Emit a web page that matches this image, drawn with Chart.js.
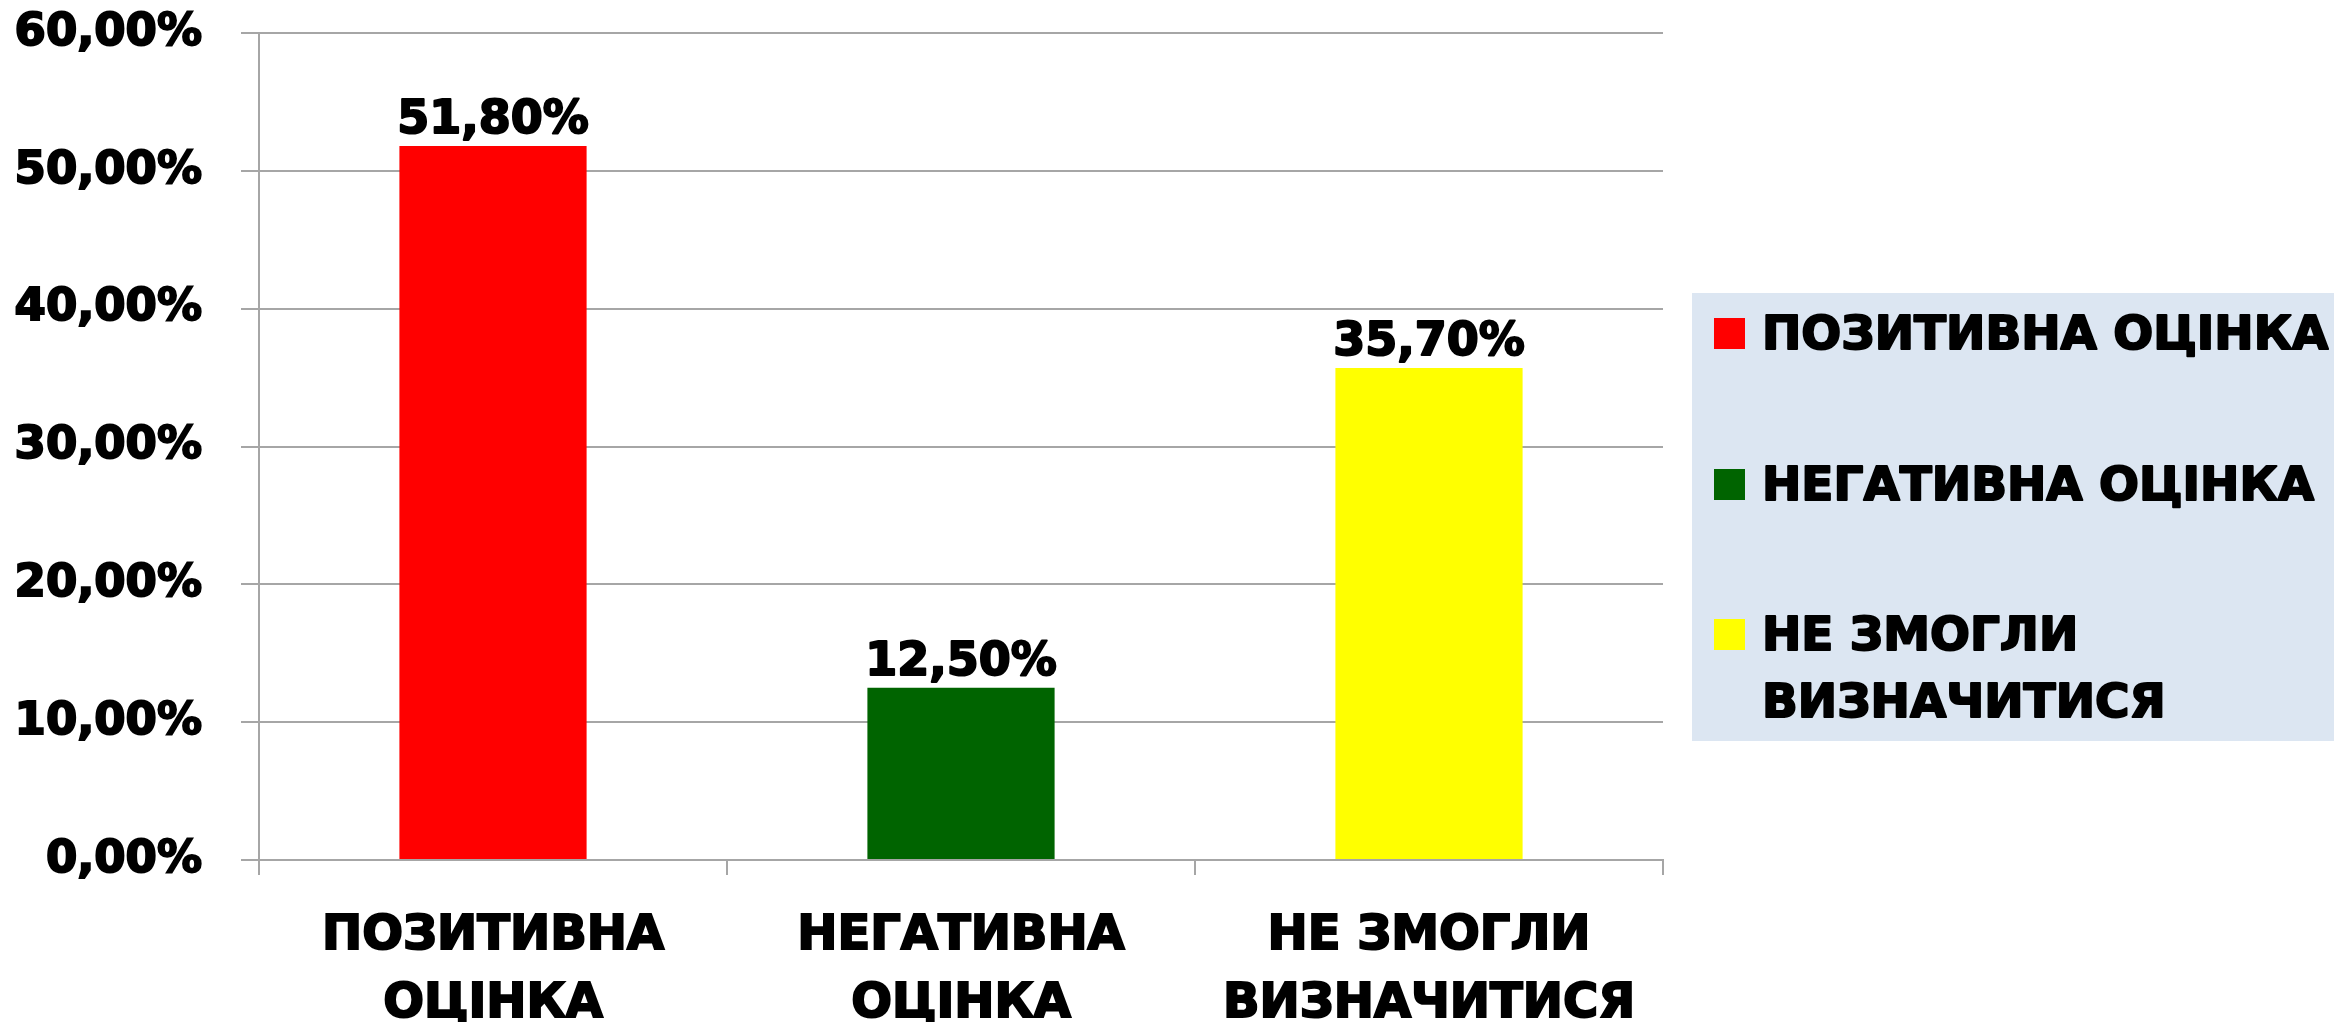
<!DOCTYPE html>
<html>
<head>
<meta charset="utf-8">
<script src="https://cdn.jsdelivr.net/npm/chart.js@4.4.0/dist/chart.umd.min.js"></script>
<style>
  body { margin: 0; background: #ffffff; }
  #wrap { width: 2334px; height: 1022px; }
</style>
</head>
<body>
<div id="wrap"><canvas id="chart" width="2334" height="1022"></canvas></div>
<script>
// chart data
const categories = [['ПОЗИТИВНА', 'ОЦІНКА'], ['НЕГАТИВНА', 'ОЦІНКА'], ['НЕ ЗМОГЛИ', 'ВИЗНАЧИТИСЯ']];
const legendLabels = [['ПОЗИТИВНА ОЦІНКА'], ['НЕГАТИВНА ОЦІНКА'], ['НЕ ЗМОГЛИ', 'ВИЗНАЧИТИСЯ']];
const values = [51.8, 12.5, 35.7];
const barColors = ['#FF0000', '#006400', '#FFFF00'];
const yTicks = [0, 10, 20, 30, 40, 50, 60];

const gridColor = '#A6A6A6';
const fontFamily = '"DejaVu Sans", "Liberation Sans", sans-serif';

function fmtPct(v) {
  return v.toFixed(2).replace('.', ',') + '%';
}

// value labels over each bar
const barLabels = {
  id: 'barLabels',
  afterDatasetsDraw(chart) {
    const ctx = chart.ctx;
    const meta = chart.getDatasetMeta(0);
    ctx.save();
    ctx.fillStyle = '#000000';
    ctx.strokeStyle = '#000000';
    ctx.lineWidth = 2;
    ctx.lineJoin = 'round';
    ctx.font = 'bold 46px ' + fontFamily;
    ctx.textAlign = 'center';
    ctx.textBaseline = 'alphabetic';
    meta.data.forEach((bar, i) => {
      ctx.strokeText(fmtPct(values[i]), bar.x, bar.y - 13);
      ctx.fillText(fmtPct(values[i]), bar.x, bar.y - 13);
    });
    ctx.restore();
  }
};

// legend box on the right
const sideLegend = {
  id: 'sideLegend',
  afterDraw(chart) {
    const ctx = chart.ctx;
    const area = chart.chartArea;
    const boxX = area.right + 29;
    const boxY = 293;
    ctx.save();
    ctx.fillStyle = '#DCE6F2';
    ctx.fillRect(boxX, boxY, chart.width - boxX, 448);
    ctx.font = 'bold 47px ' + fontFamily;
    ctx.textBaseline = 'alphabetic';
    ctx.textAlign = 'left';
    ctx.strokeStyle = '#000000';
    ctx.lineWidth = 2;
    ctx.lineJoin = 'round';
    const baselines = [349, 500, 650];
    legendLabels.forEach((lines, i) => {
      ctx.fillStyle = barColors[i];
      ctx.fillRect(boxX + 22, baselines[i] - 31, 31, 31);
      ctx.fillStyle = '#000000';
      lines.forEach((t, j) => {
        ctx.strokeText(t, boxX + 70, baselines[i] + j * 67);
        ctx.fillText(t, boxX + 70, baselines[i] + j * 67);
      });
    });
    ctx.restore();
  }
};

const ctx = document.getElementById('chart').getContext('2d');
const chartInstance = new Chart(ctx, {
  type: 'bar',
  data: {
    labels: categories,
    datasets: [{
      data: values,
      backgroundColor: barColors,
      borderWidth: 0,
      barPercentage: 0.4,
      categoryPercentage: 1.0
    }]
  },
  options: {
    responsive: false,
    animation: false,
    layout: { padding: { top: 0, right: 671, left: 0, bottom: 0 } },
    plugins: {
      legend: { display: false },
      tooltip: { enabled: false }
    },
    scales: {
      y: {
        min: 0,
        max: 60,
        afterBuildTicks: s => { s.ticks = yTicks.map(v => ({ value: v })); },
        afterFit: s => {
          s.width = 259;
          s.paddingTop = 33;
          s.paddingBottom = 0;
        },
        ticks: {
          color: '#000000',
          padding: 39,
          textStrokeColor: '#000000',
          textStrokeWidth: 2,
          font: { family: fontFamily, size: 45, weight: 'bold' },
          callback: v => fmtPct(v)
        },
        grid: { color: gridColor, lineWidth: 2, tickLength: 18 },
        border: { color: gridColor, width: 2 }
      },
      x: {
        afterFit: s => { s.height = 162; },
        ticks: {
          color: '#000000',
          padding: 28,
          maxRotation: 0,
          autoSkip: false,
          textStrokeColor: '#000000',
          textStrokeWidth: 2,
          font: { family: fontFamily, size: 48, weight: 'bold', lineHeight: 1.41 }
        },
        grid: { offset: true, drawOnChartArea: false, color: gridColor, lineWidth: 2, tickLength: 15 },
        border: { color: gridColor, width: 2 }
      }
    }
  },
  plugins: [barLabels, sideLegend]
});
</script>
</body>
</html>
